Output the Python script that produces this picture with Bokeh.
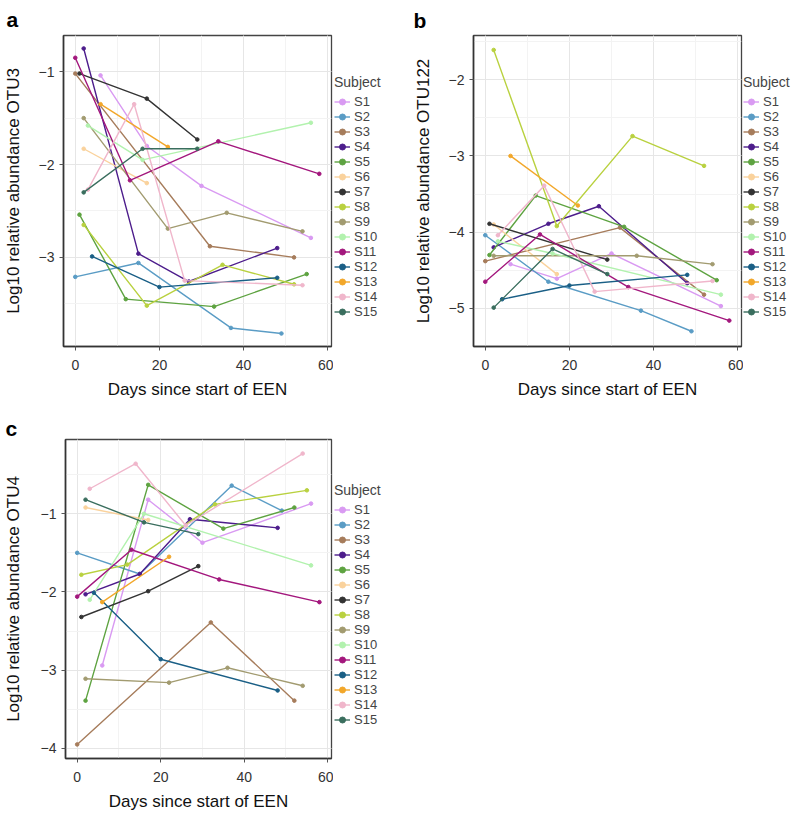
from bokeh.plotting import figure
from bokeh.layouts import column, row
from bokeh.models import Range1d, SingleIntervalTicker, Legend, LegendItem, Title
from bokeh.embed import file_html
from bokeh.resources import INLINE

SUBJECTS = ["S1", "S2", "S3", "S4", "S5", "S6", "S7", "S8", "S9", "S10",
            "S11", "S12", "S13", "S14", "S15"]
COLORS = ["#D99AF2", "#5A9CC5", "#A67C5B", "#4D1D8C", "#5EA341", "#FAD29C",
          "#333333", "#B9D13F", "#A29B70", "#B2F2AE", "#A3177D", "#1A5F86",
          "#F2A72A", "#F0B6CB", "#3A6E5E"]

# sampling days (panels a and b)
DAYS = {
    "S1": [6, 17, 30, 56], "S2": [0, 15, 37, 49], "S3": [0, 32, 52],
    "S4": [2, 15, 27, 48], "S5": [1, 12, 33, 55], "S6": [2, 17],
    "S7": [1, 17, 29], "S8": [2, 17, 35, 52], "S9": [2, 22, 36, 54],
    "S10": [3, 16, 56], "S11": [0, 13, 34, 58], "S12": [4, 20, 48],
    "S13": [6, 22], "S14": [3, 14, 26, 54], "S15": [2, 16, 29],
}
# sampling days as drawn in panel c
DAYS_C = dict(DAYS)
DAYS_C["S5"] = [2, 17, 35, 52]
DAYS_C["S8"] = [1, 12, 33, 55]

OTU3 = {
    "S1": [-1.04, -1.80, -2.23, -2.79], "S2": [-3.21, -3.06, -3.76, -3.82],
    "S3": [-1.02, -2.88, -3.00], "S4": [-0.75, -2.96, -3.26, -2.90],
    "S5": [-2.54, -3.45, -3.53, -3.18], "S6": [-1.83, -2.20],
    "S7": [-1.02, -1.29, -1.73], "S8": [-2.65, -3.52, -3.08, -3.29],
    "S9": [-1.50, -2.69, -2.52, -2.72], "S10": [-1.58, -1.95, -1.55],
    "S11": [-0.85, -2.17, -1.75, -2.10], "S12": [-2.99, -3.32, -3.22],
    "S13": [-1.35, -1.81], "S14": [-2.27, -1.35, -3.25, -3.30],
    "S15": [-2.30, -1.83, -1.83],
}
OTU122 = {
    "S1": [-4.42, -4.61, -4.28, -4.97], "S2": [-4.04, -4.65, -5.03, -5.30],
    "S3": [-4.38, -3.94, -4.82], "S4": [-4.20, -3.89, -3.66, -4.67],
    "S5": [-4.30, -3.52, -3.93, -4.63], "S6": [-3.90, -4.55],
    "S7": [-3.89, -4.36], "S8": [-1.61, -3.92, -2.74, -3.13],
    "S9": [-4.31, -4.31, -4.31, -4.42], "S10": [-4.12, -4.28, -4.82],
    "S11": [-4.65, -4.03, -4.72, -5.16], "S12": [-4.88, -4.70, -4.56],
    "S13": [-3.00, -3.65], "S14": [-4.04, -3.39, -4.78, -4.64],
    "S15": [-4.99, -4.22, -4.55],
}
DAYS_B = dict(DAYS)
DAYS_B["S7"] = [1, 29]

OTU4 = {
    "S1": [-2.94, -0.82, -1.37, -0.87], "S2": [-1.50, -1.77, -0.64, -0.96],
    "S3": [-3.95, -2.39, -3.39], "S4": [-2.03, -1.77, -1.07, -1.18],
    "S5": [-3.39, -0.63, -1.19, -0.92], "S6": [-0.92, -1.08],
    "S7": [-2.32, -1.99, -1.67], "S8": [-1.78, -1.65, -0.88, -0.70],
    "S9": [-3.11, -3.16, -2.97, -3.20], "S10": [-2.10, -1.00, -1.66],
    "S11": [-2.06, -1.46, -1.84, -2.13], "S12": [-2.01, -2.86, -3.26],
    "S13": [-2.13, -1.55], "S14": [-0.68, -0.36, -1.15, -0.23],
    "S15": [-0.82, -1.11, -1.26],
}

FONT = "Liberation Sans"
LINE_W = 1.4
DOT = 3.6


def make_panel(letter, days, vals, ylabel, yr, yticks, width, height,
               bl, bt, br, bb, ylab_standoff, letter_offset, letter_standoff):
    p = figure(width=width, height=height, output_backend="svg",
               toolbar_location=None, x_range=Range1d(-2.8, 60.9),
               y_range=Range1d(*yr), min_border_left=bl, min_border_top=bt,
               min_border_right=br, min_border_bottom=bb)
    p.title = Title(text=letter, text_font=FONT, text_font_size="21px",
                    text_font_style="bold", text_color="#000000",
                    align="left", standoff=letter_standoff,
                    offset=letter_offset)
    for s, c in zip(SUBJECTS, COLORS):
        p.line(days[s], vals[s], line_color=c, line_width=LINE_W)
        p.scatter(days[s], vals[s], size=DOT, fill_color=c, line_color=c)

    p.xaxis.ticker = SingleIntervalTicker(interval=20, num_minor_ticks=2)
    p.yaxis.ticker = SingleIntervalTicker(interval=1, num_minor_ticks=2)
    p.yaxis.major_label_overrides = {t: "\u2212" + str(-t) for t in yticks}
    p.xaxis.axis_label = "Days since start of EEN"
    p.yaxis.axis_label = ylabel
    for ax in (p.xaxis, p.yaxis):
        ax.axis_label_text_font = FONT
        ax.axis_label_text_font_size = "17px"
        ax.axis_label_text_font_style = "normal"
        ax.axis_label_text_color = "#111111"
        ax.major_label_text_font = FONT
        ax.major_label_text_font_size = "14px"
        ax.major_label_text_color = "#333333"
        ax.axis_line_color = "#333333"
        ax.axis_line_width = 1.6
        ax.major_tick_line_color = "#555555"
        ax.major_tick_out = 4
        ax.major_tick_in = 0
        ax.minor_tick_line_color = None
    p.xaxis.major_label_standoff = 9
    p.yaxis.major_label_standoff = 5
    p.xaxis.axis_label_standoff = 7
    p.yaxis.axis_label_standoff = ylab_standoff
    for g in (p.xgrid, p.ygrid):
        g.grid_line_color = "#E6E6E6"
        g.grid_line_width = 1
        g.minor_grid_line_color = "#F3F3F3"
        g.minor_grid_line_width = 1
    p.outline_line_color = "#444444"
    p.outline_line_width = 1.3
    return p


def make_legend(days, vals, width, height, leg_x, leg_y):
    # the series are drawn here too, but outside the visible ranges,
    # so that only their legend keys show
    f = figure(width=width, height=height, output_backend="svg",
               toolbar_location=None, x_range=Range1d(1000, 1001),
               y_range=Range1d(1000, 1001), x_axis_location=None,
               y_axis_location=None, min_border_left=0, min_border_right=0,
               min_border_top=0, min_border_bottom=0)
    f.xgrid.visible = False
    f.ygrid.visible = False
    f.outline_line_color = None
    items = []
    for s, c in zip(SUBJECTS, COLORS):
        ln = f.line(days[s], vals[s], line_color=c, line_width=LINE_W)
        sc = f.scatter(days[s], vals[s], size=DOT, fill_color=c, line_color=c)
        items.append(LegendItem(label=s, renderers=[ln, sc]))
    leg = Legend(items=items, title="Subject", location=(leg_x, leg_y),
                 label_text_font=FONT, label_text_font_size="13px",
                 title_text_font=FONT, title_text_font_size="14px",
                 title_text_font_style="normal", title_standoff=4,
                 glyph_width=16, glyph_height=15, label_height=15,
                 label_standoff=4, spacing=0, padding=2, margin=0,
                 border_line_color=None, background_fill_alpha=0)
    f.add_layout(leg)
    return f


pa = make_panel("a", DAYS, OTU3, "Log10 relative abundance OTU3",
                (-3.96, -0.61), [-1, -2, -3], 333, 408, 60, 31, 2, 60, 13,
                -57, 10)
la = make_legend(DAYS, OTU3, 57, 408, 1, 27)
pb = make_panel("b", DAYS_B, OTU122, "Log10 relative abundance OTU122",
                (-5.5, -1.42), [-2, -3, -4, -5], 353, 408, 83, 27, 2, 62, 13,
                -60, 7)
lb = make_legend(DAYS_B, OTU122, 55, 408, 0, 27)
pc = make_panel("c", DAYS_C, OTU4, "Log10 relative abundance OTU4",
                (-4.13, -0.05), [-1, -2, -3, -4], 333, 409, 62, 31, 2, 59, 15,
                -60, 0)
lc = make_legend(DAYS_C, OTU4, 57, 409, 1, 31)

layout = column(row(pa, la, pb, lb), row(pc, lc))
open("out.html", "w").write(file_html(layout, INLINE))
